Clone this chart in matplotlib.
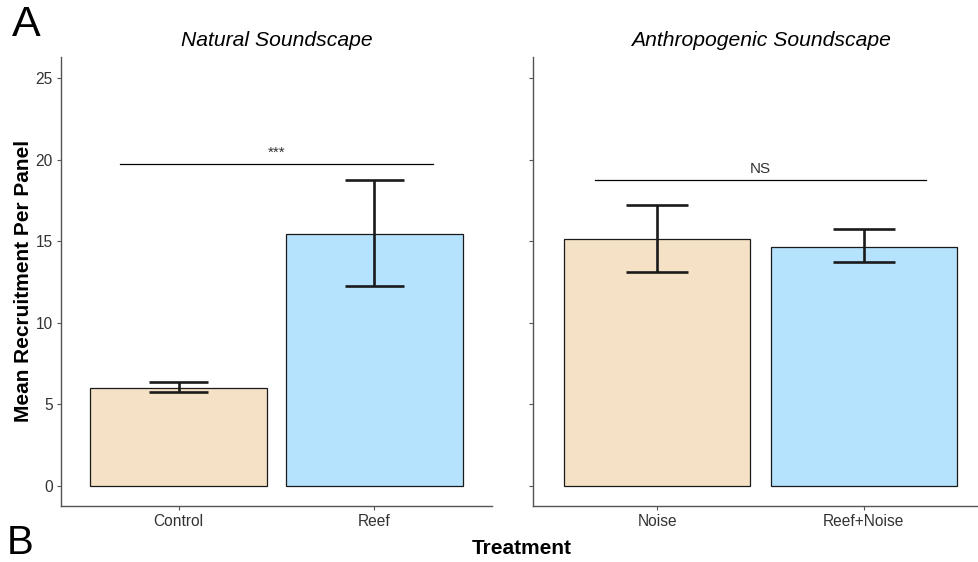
import matplotlib.pyplot as plt
import numpy as np

plt.rcParams['font.family'] = ['Liberation Sans', 'DejaVu Sans']

# Natural soundscape panel
nat_labels = ["Control", "Reef"]
nat_means = [6.02, 15.44]
nat_lo = [5.76, 12.24]
nat_hi = [6.40, 18.77]

# Anthropogenic soundscape panel
anth_labels = ["Noise", "Reef+Noise"]
anth_means = [15.12, 14.64]
anth_lo = [13.13, 13.73]
anth_hi = [17.20, 15.75]

bar_colors = ["#F5E1C6", "#B5E2FC"]
yticks = [0, 5, 10, 15, 20, 25]

# significance bars: (y of line, y of text, text)
nat_sig = (19.71, 20.0, "***")
anth_sig = (18.73, 19.0, "NS")

fig = plt.figure(figsize=(9.79, 5.62), dpi=100)
ax1 = fig.add_axes([61 / 979, 56 / 562, 431 / 979, 449 / 562])
ax2 = fig.add_axes([533 / 979, 56 / 562, 455 / 979, 449 / 562])


def draw_panel(ax, labels, means, lo, hi, sig, title, show_labels):
    x = np.arange(1, len(labels) + 1)
    ax.bar(x, means, width=0.9, color=bar_colors, edgecolor="#1a1a1a",
           linewidth=0.9, zorder=2)
    for xi, l, h in zip(x, lo, hi):
        ax.plot([xi, xi], [l, h], color="#1a1a1a", lw=1.9, zorder=3,
                solid_capstyle="butt")
        for yv in (l, h):
            ax.plot([xi - 0.15, xi + 0.15], [yv, yv], color="#1a1a1a",
                    lw=1.9, zorder=3, solid_capstyle="butt")
    ax.plot([0.7, 2.3], [sig[0], sig[0]], color="black", lw=0.9)
    ax.text(1.5, sig[1], sig[2], ha="center", va="bottom", fontsize=11,
            color="#333333")
    ax.set_xlim(0.4, 2.6)
    ax.set_ylim(-1.23, 26.3)
    ax.set_xticks(x)
    ax.set_xticklabels(labels)
    ax.set_yticks(yticks)
    if not show_labels:
        ax.set_yticklabels([])
    for s in ["top", "right"]:
        ax.spines[s].set_visible(False)
    for s in ["left", "bottom"]:
        ax.spines[s].set_color("#555555")
        ax.spines[s].set_linewidth(1.0)
    ax.tick_params(length=3, width=0.8, color="#555555", labelsize=11.2,
                   labelcolor="#333333", pad=3)
    ax.set_title(title, style="italic", fontsize=15.2, pad=8)


draw_panel(ax1, nat_labels, nat_means, nat_lo, nat_hi, nat_sig,
           "Natural Soundscape", True)
draw_panel(ax2, anth_labels, anth_means, anth_lo, anth_hi, anth_sig,
           "Anthropogenic Soundscape", False)

fig.text(24 / 979, 1 - 281 / 562, "Mean Recruitment Per Panel", rotation=90,
         ha="center", va="center", fontsize=15, fontweight="bold")
fig.text(522 / 979, 1 - 549 / 562, "Treatment", ha="center", va="center",
         fontsize=15, fontweight="bold")
fig.text(12 / 979, 1 - 25 / 562, "A", ha="left", va="center", fontsize=31)
fig.text(7 / 979, 1 - 543 / 562, "B", ha="left", va="center", fontsize=29)

fig.savefig("out.png", dpi=100)
